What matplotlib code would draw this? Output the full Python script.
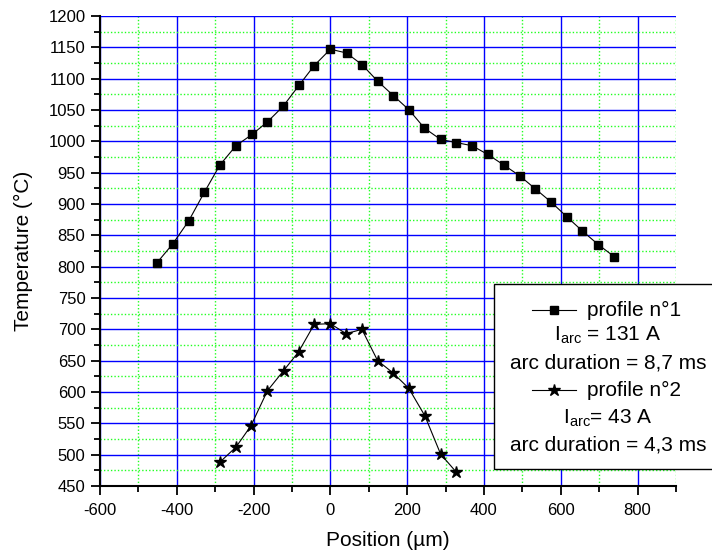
import numpy as np
import matplotlib
matplotlib.use("Agg")
import matplotlib.pyplot as plt
from matplotlib.lines import Line2D
from matplotlib.patches import Rectangle
from matplotlib.ticker import MultipleLocator

plt.rcParams['font.family'] = ['Liberation Sans', 'DejaVu Sans']
plt.rcParams['mathtext.fontset'] = 'custom'
plt.rcParams['mathtext.rm'] = 'Liberation Sans'
plt.rcParams['axes.unicode_minus'] = False

# profile n°1 (I_arc = 131 A)
x1 = [-452, -411, -369, -328, -288, -246, -204, -164, -123, -81, -42, 0, 42, 83, 123,
      164, 205, 245, 287, 328, 369, 410, 452, 493, 534, 575, 615, 656, 698, 739]
t1 = [806, 836, 873, 919, 962, 993, 1011, 1031, 1056, 1090, 1121, 1147, 1141, 1122, 1096,
      1073, 1050, 1021, 1003, 998, 993, 979, 962, 945, 924, 903, 880, 857, 835, 816]

# profile n°2 (I_arc = 43 A)
x2 = [-288, -246, -207, -164, -122, -83, -42, 0, 41, 82, 123, 162, 204, 246, 287, 328]
t2 = [488, 512, 546, 602, 634, 664, 708, 709, 693, 700, 650, 631, 606, 562, 501, 472]

legend_lines = ["profile n°1", r"I$_{\mathrm{arc}}$ = 131 A", "arc duration = 8,7 ms",
                "profile n°2", r"I$_{\mathrm{arc}}$= 43 A", "arc duration = 4,3 ms"]

W, H = 712, 556
fig = plt.figure(figsize=(W / 100, H / 100), dpi=100)
ax = fig.add_axes([100 / W, 1 - 486 / H, 576 / W, 470 / H])

ax.plot(x1, t1, "-", color="black", lw=0.8, marker="s", ms=6.3, zorder=3)
ax.plot(x2, t2, "-", color="black", lw=0.8, marker="*", ms=9, zorder=3)

ax.set_xlim(-600, 900)
ax.set_ylim(450, 1200)
ax.xaxis.set_major_locator(MultipleLocator(200))
ax.xaxis.set_minor_locator(MultipleLocator(100))
ax.yaxis.set_major_locator(MultipleLocator(50))
ax.yaxis.set_minor_locator(MultipleLocator(25))
ax.set_xticks(np.arange(-600, 801, 200))

ax.grid(True, which="major", color="#0000ff", lw=1.0, ls="-")
ax.grid(True, which="minor", color="#22ff22", lw=1.0, ls=(0, (1, 1.5)))
ax.set_axisbelow(True)

for s in ["top", "right"]:
    ax.spines[s].set_visible(False)
for s in ["left", "bottom"]:
    ax.spines[s].set_linewidth(1.5)

ax.tick_params(which="major", direction="out", length=6.5, width=1.3, labelsize=12)
ax.tick_params(which="minor", direction="out", length=4, width=1.3)
ax.tick_params(axis="x", which="major", pad=6)
ax.tick_params(axis="y", which="major", pad=4)

ax.set_xlabel("Position (µm)", fontsize=15, labelpad=9)
ax.set_ylabel("Temperature (°C)", fontsize=15, labelpad=11)

# legend box, partly outside the figure
tf = fig.transFigure
fig.patches.append(Rectangle((494 / W, 1 - 469 / H), 0.5, (469 - 284) / H,
                             transform=tf, facecolor="white", edgecolor="black",
                             lw=1.0, zorder=5))
rows_y = [310, 335, 363, 390, 418, 445]
for i, (txt, yy) in enumerate(zip(legend_lines, rows_y)):
    if i in (0, 3):
        mk = "s" if i == 0 else "*"
        msz = 6.3 if i == 0 else 9
        fig.lines.append(Line2D([532 / W, 576 / W], [1 - yy / H] * 2, transform=tf,
                                color="black", lw=0.8, zorder=6))
        fig.lines.append(Line2D([554 / W], [1 - yy / H], transform=tf, color="black",
                                marker=mk, ms=msz, zorder=6))
        fig.text(587 / W, 1 - yy / H, txt, fontsize=15, ha="left", va="center", zorder=7)
    else:
        fig.text(608 / W, 1 - yy / H, txt, fontsize=15, ha="center", va="center", zorder=7)

fig.savefig("out.png", dpi=100)
